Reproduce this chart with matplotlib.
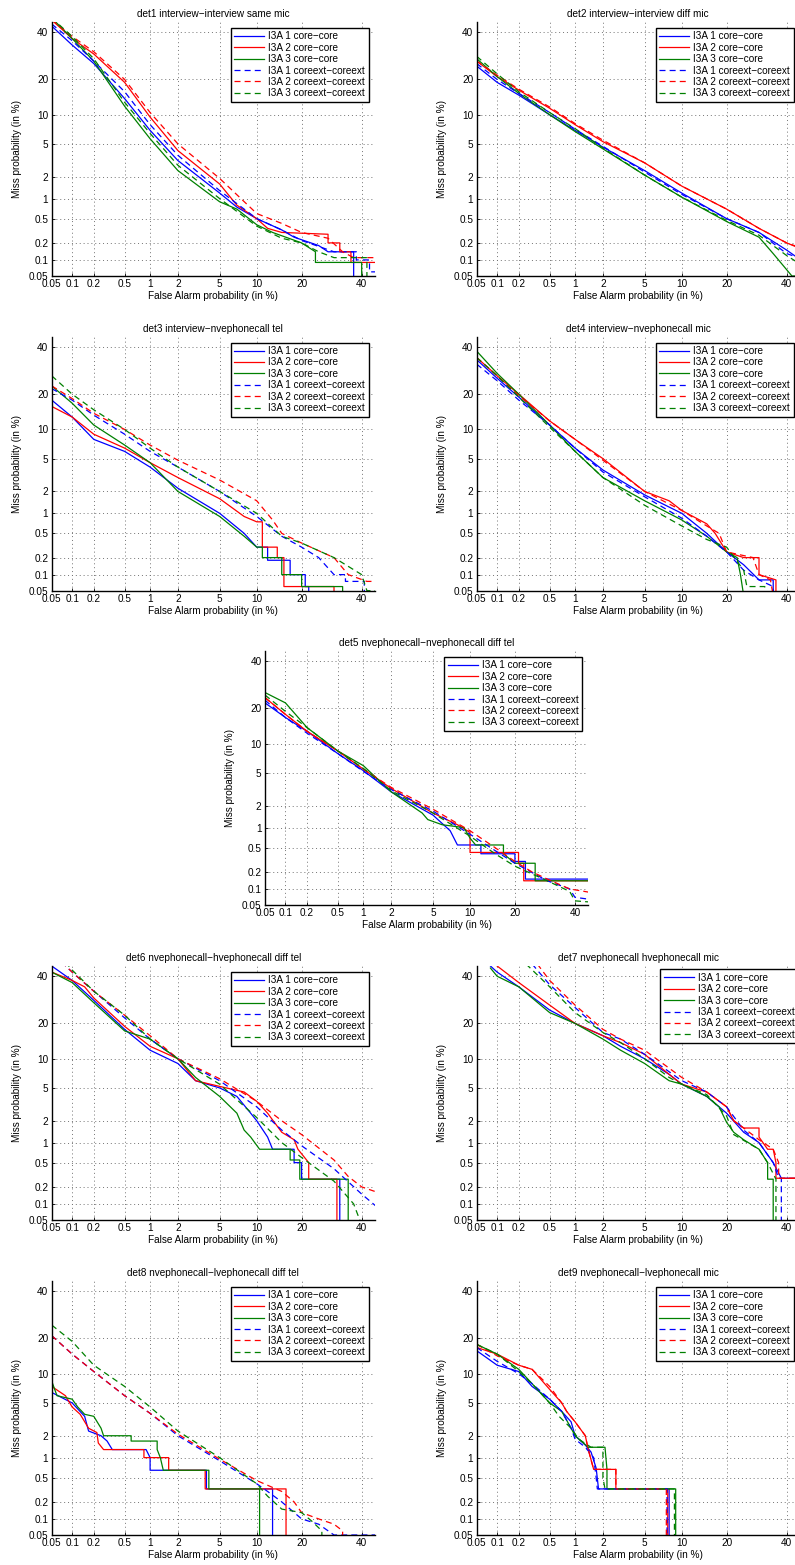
import numpy as np
import matplotlib
matplotlib.use('Agg')
import matplotlib.pyplot as plt
from statistics import NormalDist

plt.rcParams['font.family'] = ['Liberation Sans', 'DejaVu Sans']

# ---------------- data (FA %, Miss %) ----------------
TICKS = [0.05, 0.1, 0.2, 0.5, 1, 2, 5, 10, 20, 40]
TICK_LABELS = ['0.05', '0.1', '0.2', '0.5', '1', '2', '5', '10', '20', '40']
TITLES = ['det1 interview\u2212interview same mic',
          'det2 interview\u2212interview diff mic',
          'det3 interview\u2212nvephonecall tel',
          'det4 interview\u2212nvephonecall mic',
          'det5 nvephonecall\u2212nvephonecall diff tel',
          'det6 nvephonecall\u2212hvephonecall diff tel',
          'det7 nvephonecall hvephonecall mic',
          'det8 nvephonecall\u2212lvephonecall diff tel',
          'det9 nvephonecall\u2212lvephonecall mic']
LABELS = ['I3A 1 core\u2212core', 'I3A 2 core\u2212core', 'I3A 3 core\u2212core',
          'I3A 1 coreext\u2212coreext', 'I3A 2 coreext\u2212coreext', 'I3A 3 coreext\u2212coreext']

det1_s1 = [(0.05,43),(0.1,34),(0.2,26),(0.5,14),(1,7),(2,3.2),(5,1.2),(7,0.75),(10,0.5),(15,0.33),(18,0.25),(25,0.18),(28,0.14),(37,0.14),(37,0.04)]
det1_s2 = [(0.05,46),(0.1,37),(0.2,30),(0.5,19),(1,9.5),(2,4.2),(5,1.6),(7,0.8),(10,0.5),(12,0.35),(15,0.3),(28,0.28),(28,0.2),(32,0.2),(32,0.14),(36,0.14),(36,0.09),(50,0.09)]
det1_s3 = [(0.05,47),(0.1,37),(0.2,27),(0.5,12),(1,5.7),(2,2.4),(5,0.9),(7,0.7),(10,0.4),(13,0.3),(20,0.2),(24,0.14),(24,0.09),(40,0.09),(40,0.04)]
det1_d1 = [(0.05,44),(0.1,36),(0.2,27),(0.5,16),(1,8),(2,3.7),(5,1.3),(10,0.5),(15,0.33),(20,0.22),(30,0.14),(38,0.14),(38,0.1),(43,0.1),(43,0.06),(50,0.06)]
det1_d2 = [(0.05,46),(0.1,38),(0.2,31),(0.5,20),(1,10.5),(2,5),(5,1.9),(10,0.6),(15,0.42),(20,0.3),(28,0.24),(33,0.14),(37,0.11),(50,0.11)]
det1_d3 = [(0.05,47),(0.1,38),(0.2,28),(0.5,13),(1,6.5),(2,2.8),(5,1.0),(10,0.38),(15,0.24),(20,0.2),(25,0.14),(30,0.11),(42,0.11),(42,0.04)]

det2_s1 = [(0.05,25),(0.1,19),(0.2,15),(0.5,10),(1,7),(2,4.6),(5,2.4),(10,1.2),(20,0.5),(30,0.3),(40,0.15),(50,0.07)]
det2_s2 = [(0.05,27),(0.1,21),(0.2,16.5),(0.5,11.5),(1,8),(2,5.3),(5,3),(10,1.5),(20,0.7),(30,0.35),(40,0.2),(50,0.13)]
det2_s3 = [(0.05,28),(0.1,21),(0.2,15.5),(0.5,10),(1,6.8),(2,4.4),(5,2.1),(10,1.05),(20,0.45),(30,0.25),(35,0.13),(42,0.05),(50,0.05)]
det2_d1 = [(0.05,26),(0.1,20),(0.2,15.5),(0.5,10.5),(1,7.2),(2,4.7),(5,2.3),(10,1.15),(20,0.5),(30,0.3),(40,0.13),(50,0.09)]
det2_d2 = [(0.05,27),(0.1,21.5),(0.2,16.8),(0.5,11.8),(1,8.2),(2,5.5),(5,3),(10,1.5),(20,0.7),(30,0.35),(40,0.2),(50,0.14)]
det2_d3 = [(0.05,29),(0.1,22),(0.2,16),(0.5,10.5),(1,7.3),(2,4.5),(5,2.1),(10,1.05),(20,0.47),(30,0.27),(40,0.12),(50,0.06)]

det3_s1 = [(0.05,18),(0.1,13),(0.2,8),(0.5,6),(1,4),(2,2.2),(5,1),(8,0.5),(10,0.3),(12,0.3),(12,0.18),(17,0.18),(17,0.1),(21,0.1),(21,0.06),(22,0.06),(22,0.04)]
det3_s2 = [(0.05,16),(0.1,13),(0.2,9),(0.5,6.5),(1,4.5),(2,3),(5,1.6),(8,0.9),(10,0.75),(11,0.75),(11,0.3),(14,0.3),(14,0.2),(15.5,0.2),(15.5,0.06),(30,0.06),(30,0.04)]
det3_s3 = [(0.05,23),(0.1,17),(0.2,11),(0.5,7),(1,4.5),(2,2),(5,0.9),(8,0.45),(10,0.3),(11,0.3),(11,0.2),(15,0.2),(15,0.1),(20,0.1),(20,0.06),(33,0.06),(33,0.04)]
det3_d1 = [(0.05,22),(0.1,18),(0.2,13.5),(0.5,9),(1,6),(2,4),(5,2),(10,0.9),(15,0.45),(20,0.3),(25,0.2),(30,0.1),(34,0.1),(34,0.075),(41,0.075),(41,0.04)]
det3_d2 = [(0.05,23),(0.1,18.5),(0.2,14),(0.5,10),(1,7),(2,4.8),(5,2.8),(10,1.5),(13,0.8),(15,0.5),(20,0.35),(30,0.2),(35,0.1),(42,0.075),(50,0.075)]
det3_d3 = [(0.05,27),(0.1,20),(0.2,15),(0.5,10),(1,6.5),(2,4),(5,2),(10,1),(15,0.45),(20,0.35),(30,0.2),(40,0.1),(42,0.05),(50,0.05)]

det4_s1 = [(0.05,34),(0.1,26),(0.2,19),(0.5,11),(1,6.5),(2,3.7),(5,1.8),(10,1),(15,0.5),(20,0.25),(25,0.15),(30,0.08),(35,0.08),(35,0.04)]
det4_s2 = [(0.05,35),(0.1,27),(0.2,20),(0.5,12),(1,8),(2,5),(5,2),(8,1.5),(10,1.1),(15,0.7),(17,0.5),(20,0.25),(25,0.2),(30,0.2),(30,0.1),(36,0.08),(36,0.04)]
det4_s3 = [(0.05,38),(0.1,28),(0.2,20),(0.5,11),(1,6),(2,3),(5,1.5),(10,0.8),(15,0.45),(20,0.25),(23,0.2),(24,0.1),(25,0.04)]
det4_d1 = [(0.05,32),(0.1,25),(0.2,18),(0.5,11),(1,6.5),(2,3.5),(5,1.7),(10,0.85),(15,0.45),(20,0.25),(25,0.12),(30,0.08),(35,0.06),(35,0.04)]
det4_d2 = [(0.05,35),(0.1,27),(0.2,19.5),(0.5,12),(1,8),(2,4.8),(5,2),(10,1.1),(15,0.65),(18,0.5),(20,0.25),(28,0.2),(30,0.1),(34,0.08),(35,0.04)]
det4_d3 = [(0.05,35),(0.1,27),(0.2,19),(0.5,10.5),(1,6),(2,3),(5,1.3),(10,0.65),(15,0.4),(20,0.3),(25,0.12),(26,0.06),(32,0.06),(32,0.04)]

det5_s1 = [(0.05,22),(0.1,17),(0.2,13),(0.5,8),(1,5.3),(2,3),(5,1.5),(7,0.9),(8,0.55),(12,0.55),(12,0.4),(20,0.4),(20,0.3),(23,0.3),(23,0.15),(50,0.15)]
det5_s2 = [(0.05,24),(0.1,18),(0.2,13),(0.5,8.5),(1,5.5),(2,3.3),(5,1.6),(8,1.1),(10,0.85),(10,0.42),(21,0.42),(21,0.28),(22.5,0.28),(22.5,0.14),(50,0.14)]
det5_s3 = [(0.05,26),(0.1,22),(0.2,14),(0.5,8.5),(1,6),(2,3),(4,1.6),(4.5,1.3),(6,1.1),(9,1),(10,0.7),(11,0.55),(17,0.55),(17,0.4),(20,0.28),(26,0.28),(26,0.14),(50,0.14)]
det5_d1 = [(0.05,23),(0.1,17),(0.2,12.5),(0.5,8),(1,5.2),(2,3.2),(5,1.7),(10,0.8),(15,0.45),(20,0.28),(30,0.14),(38,0.1),(40,0.07),(50,0.06)]
det5_d2 = [(0.05,24),(0.1,18),(0.2,13),(0.5,8.5),(1,5.5),(2,3.4),(5,1.8),(10,0.9),(15,0.5),(20,0.3),(25,0.2),(30,0.15),(38,0.1),(50,0.08)]
det5_d3 = [(0.05,25),(0.1,19),(0.2,14),(0.5,8.5),(1,5.6),(2,3.1),(5,1.6),(10,0.75),(15,0.4),(20,0.25),(30,0.14),(38,0.09),(40,0.06),(50,0.055)]

det6_s1 = [(0.05,45),(0.1,38),(0.2,29),(0.5,18),(1,12),(2,9),(3,6),(5,5),(7,4),(9,2.5),(10,2),(12,1.2),(13,0.8),(18,0.8),(18,0.5),(20,0.5),(20,0.27),(32,0.27),(32,0.04)]
det6_s2 = [(0.05,42),(0.1,38),(0.15,35),(0.2,30),(0.5,19),(1,13),(2,10),(3,6),(5,5.2),(8,4.5),(10,3.5),(12,2.5),(15,1.4),(18,1.1),(19,0.8),(22,0.5),(22,0.27),(31,0.27),(31,0.04)]
det6_s3 = [(0.05,42),(0.1,37),(0.2,28),(0.5,17.5),(1,15),(2,10),(3,6.5),(4,5),(5,4),(7,2.5),(8,1.5),(9,1.2),(10.5,0.8),(17,0.8),(17,0.55),(19.5,0.55),(19.5,0.27),(35,0.27),(35,0.04)]
det6_d1 = [(0.07,47),(0.1,42),(0.2,33),(0.5,22),(1,15),(2,10),(5,6),(10,3),(15,1.5),(20,0.9),(30,0.4),(40,0.15),(50,0.06)]
det6_d2 = [(0.07,47),(0.1,42),(0.2,33),(0.5,23),(1,16),(2,10),(5,6.3),(10,3.5),(15,2),(20,1.3),(30,0.55),(35,0.3),(40,0.2),(50,0.14)]
det6_d3 = [(0.08,47),(0.1,43),(0.2,33),(0.5,23),(1,15),(2,10),(5,5.5),(10,2.2),(15,1),(20,0.6),(30,0.25),(37,0.1),(40,0.04)]

det7_s1 = [(0.08,45),(0.1,42),(0.2,35),(0.5,25),(1,20),(2,16),(3,13),(5,10),(8,7),(10,5.5),(15,4),(20,2.5),(25,1.4),(30,1),(35,0.5),(38,0.28),(44,0.28),(44,0.04)]
det7_s2 = [(0.1,45),(0.2,37),(0.5,27),(1,20),(2,16),(3,14),(5,11),(8,7),(10,5.5),(15,4.5),(20,3),(22,2),(25,1.6),(30,1.6),(30,1.2),(33,0.8),(35,0.8),(36,0.5),(36,0.28),(50,0.28)]
det7_s3 = [(0.08,44),(0.1,40),(0.2,35),(0.5,24),(1,20),(2,15),(3,12),(5,9),(8,6),(10,5.5),(15,4),(18,3),(20,1.9),(22,1.4),(25,1.1),(30,0.8),(33,0.5),(33,0.27),(35,0.27),(35,0.04)]
det7_d1 = [(0.3,46),(0.5,36),(1,26),(2,17),(3,15),(5,11),(10,6),(15,4.5),(20,3),(25,1.5),(30,1),(35,0.5),(37,0.28),(38,0.28),(38,0.04)]
det7_d2 = [(0.35,46),(0.5,38),(1,27),(2,18),(3,15),(5,12),(10,6.5),(15,4.5),(20,3),(22,2),(25,1.6),(30,1.1),(35,0.8),(37,0.5),(37,0.28),(50,0.28)]
det7_d3 = [(0.25,46),(0.5,35),(1,24),(2,17),(3,14),(5,10),(8,6.5),(10,5.5),(15,4.2),(20,2.3),(22,1.3),(30,0.8),(33,0.5),(36,0.27),(36,0.04)]

det8_s1 = [(0.05,6.5),(0.1,5),(0.15,3.5),(0.17,2.3),(0.25,2),(0.3,1.7),(0.35,1.3),(0.9,1.3),(1,1),(1,0.65),(3.8,0.65),(3.8,0.33),(13,0.33),(13,0.04)]
det8_s2 = [(0.05,7.5),(0.08,6),(0.1,4.5),(0.13,3.7),(0.17,2.5),(0.22,2.2),(0.23,1.6),(0.27,1.3),(0.85,1.3),(0.85,1),(1.6,1),(1.6,0.65),(3.7,0.65),(3.7,0.33),(16,0.33),(16,0.04)]
det8_s3 = [(0.05,8.5),(0.06,6),(0.1,5.5),(0.12,4.5),(0.15,3.7),(0.2,3.5),(0.25,2.5),(0.27,2),(0.6,2),(0.6,1.7),(1.2,1.7),(1.2,1.3),(1.3,1),(1.4,0.65),(4,0.65),(4,0.33),(10.5,0.33),(10.5,0.04)]
det8_d1 = [(0.05,21),(0.1,15),(0.2,10.5),(0.5,6),(1,3.8),(2,2),(5,0.9),(10,0.4),(12,0.3),(15,0.2),(20,0.1),(25,0.08),(30,0.05),(50,0.05)]
det8_d2 = [(0.05,21),(0.1,15),(0.2,10.5),(0.5,6),(1,3.8),(2,2.1),(5,0.95),(10,0.45),(15,0.3),(18,0.2),(20,0.13),(25,0.1),(30,0.08),(33,0.06),(33,0.04)]
det8_d3 = [(0.05,25),(0.1,19),(0.2,12),(0.5,7.5),(1,4.5),(2,2.3),(5,1),(10,0.4),(12,0.25),(15,0.15),(20,0.13),(23,0.09),(26,0.06),(26,0.04)]

det9_s1 = [(0.05,16),(0.07,14),(0.1,12),(0.2,10.5),(0.3,7.5),(0.5,5.5),(0.7,4),(0.9,3),(1,2),(1.3,1.5),(1.5,1.2),(1.7,0.7),(1.8,0.33),(8,0.33),(8,0.04)]
det9_s2 = [(0.05,17),(0.1,15),(0.2,12),(0.3,11),(0.5,7),(0.7,5),(0.8,4),(1,3),(1.3,2),(1.4,1.3),(1.6,0.67),(2.7,0.67),(2.7,0.33),(7.8,0.33),(7.8,0.04)]
det9_s3 = [(0.05,18),(0.1,15),(0.2,11),(0.3,8),(0.5,5),(0.7,4),(0.9,2.5),(1,2),(1.4,1.4),(2.1,1.4),(2.2,0.67),(2.2,0.33),(9,0.33),(9,0.04)]
det9_d1 = [(0.05,17),(0.1,13),(0.2,10),(0.3,8),(0.5,5.5),(0.7,4),(0.9,2.5),(1,1.8),(1.3,1.4),(1.6,1),(1.7,0.5),(1.75,0.33),(7.7,0.33),(7.7,0.04)]
det9_d2 = [(0.05,18),(0.1,14.5),(0.2,12),(0.3,11),(0.5,7.5),(0.7,5),(0.8,4),(1,3),(1.3,2),(1.4,1.3),(1.6,0.67),(2.7,0.67),(2.7,0.33),(7.6,0.33),(7.6,0.04)]
det9_d3 = [(0.05,18),(0.1,15),(0.2,10.5),(0.3,8),(0.5,5),(0.65,3.5),(0.9,2.5),(1.1,1.8),(1.5,1.4),(2,1.4),(2,0.5),(2.1,0.33),(8.8,0.33),(8.8,0.04)]

PANEL_CURVES = [
    [det1_s1, det1_s2, det1_s3, det1_d1, det1_d2, det1_d3],
    [det2_s1, det2_s2, det2_s3, det2_d1, det2_d2, det2_d3],
    [det3_s1, det3_s2, det3_s3, det3_d1, det3_d2, det3_d3],
    [det4_s1, det4_s2, det4_s3, det4_d1, det4_d2, det4_d3],
    [det5_s1, det5_s2, det5_s3, det5_d1, det5_d2, det5_d3],
    [det6_s1, det6_s2, det6_s3, det6_d1, det6_d2, det6_d3],
    [det7_s1, det7_s2, det7_s3, det7_d1, det7_d2, det7_d3],
    [det8_s1, det8_s2, det8_s3, det8_d1, det8_d2, det8_d3],
    [det9_s1, det9_s2, det9_s3, det9_d1, det9_d2, det9_d3],
]

# ---------------- styling ----------------
COLORS = ['#0000ff', '#ff0000', '#008000', '#0000ff', '#ff0000', '#008000']
DASH = (0, (4.8, 3.3))
STYLES = ['-', '-', '-', DASH, DASH, DASH]

ND = NormalDist()


def fwd(v):
    v = np.asarray(v, dtype=float)
    out = np.full(v.shape, np.nan)
    m = np.isfinite(v)
    p = np.clip(v[m] / 100.0, 1e-9, 1 - 1e-9)
    out[m] = [ND.inv_cdf(x) for x in p]
    return out


def inv(z):
    z = np.asarray(z, dtype=float)
    out = np.full(z.shape, np.nan)
    m = np.isfinite(z)
    out[m] = [ND.cdf(x) * 100.0 for x in z[m]]
    return out


W, H = 795, 1565
fig = plt.figure(figsize=(W / 100, H / 100), dpi=100)

AX_W, AX_H = 323, 254
# (left px, bottom px from top)
POS = [(51.7, 276), (476.7, 276), (51.7, 590.7), (476.7, 590.7), (265, 905),
       (51.7, 1220), (476.7, 1220), (51.7, 1535), (476.7, 1535)]
LEG = [(0.555, 0.977)] * 9
LEG[6] = (0.5675, 0.987)

FS = 7.2
for i in range(9):
    lx, by = POS[i]
    ax = fig.add_axes([lx / W, 1 - by / H, AX_W / W, AX_H / H])
    ax.set_xscale('function', functions=(fwd, inv))
    ax.set_yscale('function', functions=(fwd, inv))
    handles = []
    for j, cur in enumerate(PANEL_CURVES[i]):
        fa = [c[0] for c in cur]
        ms = [c[1] for c in cur]
        ln, = ax.plot(fa, ms, color=COLORS[j], linestyle=STYLES[j], lw=0.9)
        handles.append(ln)
    ax.set_xlim(0.05, 45)
    ax.set_ylim(0.05, 45)
    ax.set_xticks(TICKS)
    ax.set_xticklabels(TICK_LABELS)
    ax.set_yticks(TICKS)
    ax.set_yticklabels(TICK_LABELS)
    ax.minorticks_off()
    ax.grid(True, color='0.45', linestyle=(0, (1, 3)), lw=0.7)
    ax.spines['top'].set_visible(False)
    ax.spines['right'].set_visible(False)
    for s in ('left', 'bottom'):
        ax.spines[s].set_linewidth(1.0)
    ax.tick_params(direction='in', length=2.5, width=0.6, labelsize=FS, pad=2.5)
    ax.set_xlabel('False Alarm probability (in %)', fontsize=FS, labelpad=1)
    ax.set_ylabel('Miss probability (in %)', fontsize=FS, labelpad=5)
    ax.set_title(TITLES[i], fontsize=FS, pad=3.5)
    leg = ax.legend(handles, LABELS, loc='upper left', bbox_to_anchor=LEG[i],
                    bbox_transform=ax.transAxes, borderaxespad=0, fontsize=FS,
                    frameon=True, fancybox=False, edgecolor='k', framealpha=1,
                    handlelength=3.0, handletextpad=0.4, labelspacing=0.14,
                    borderpad=0.35)
    leg.get_frame().set_linewidth(1.0)

fig.savefig('out.png', dpi=100)
